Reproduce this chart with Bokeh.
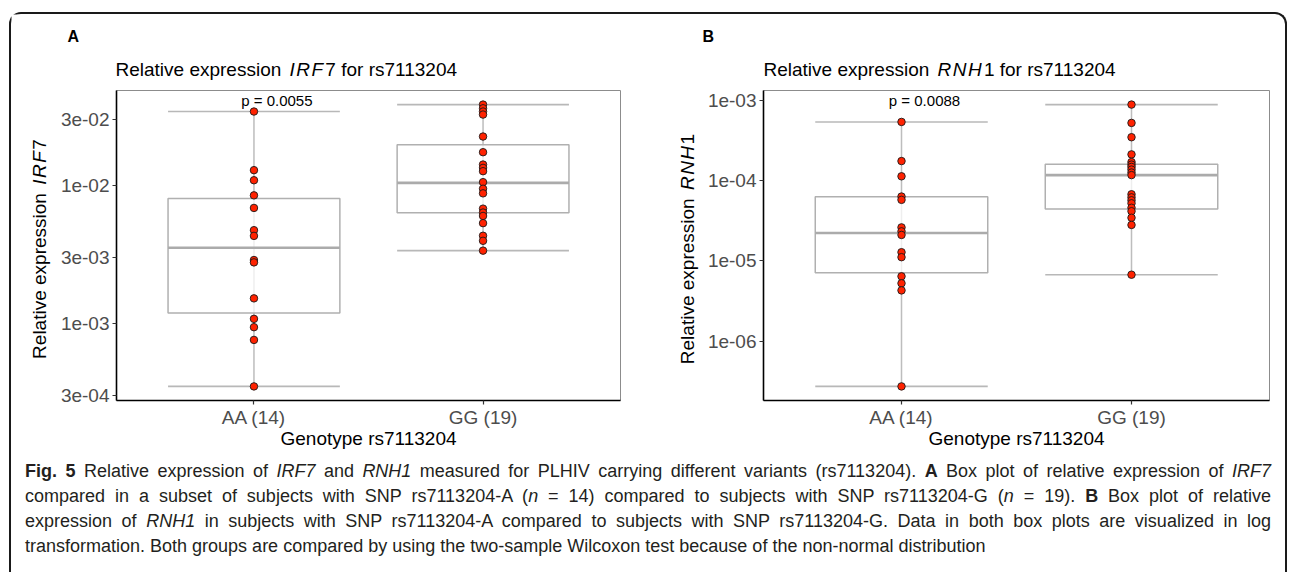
import math
import numpy as np
from bokeh.plotting import figure
from bokeh.models import Range1d, FixedTicker, Label, ColumnDataSource, Div
from bokeh.layouts import row, column
from bokeh.core.properties import value
from bokeh.embed import file_html
from bokeh.resources import INLINE

# ---------------- data ----------------
genotypes = ["AA (14)", "GG (19)"]
genotype_x = [1, 2]

irf7_aa = [0.0343, 0.0129, 0.0109, 0.00847, 0.00687, 0.00474, 0.00431,
           0.00288, 0.00277, 0.00152, 0.00108, 0.00094, 0.00076, 0.00035]
irf7_gg = [0.0385, 0.0362, 0.0343, 0.0326, 0.0226, 0.0174, 0.01416, 0.0134,
           0.01268, 0.01056, 0.00946, 0.00876, 0.00679, 0.00636, 0.00601,
           0.00533, 0.00432, 0.00397, 0.00337]
rnh1_aa = [5.38e-4, 1.75e-4, 1.13e-4, 6.32e-5, 5.75e-5, 2.61e-5, 2.33e-5,
           2.10e-5, 1.28e-5, 1.11e-5, 6.4e-6, 5.24e-6, 4.28e-6, 2.72e-7]
rnh1_gg = [8.85e-4, 5.23e-4, 3.47e-4, 2.12e-4, 1.70e-4, 1.58e-4, 1.48e-4,
           1.37e-4, 1.26e-4, 1.17e-4, 6.75e-5, 6.18e-5, 5.68e-5, 5.21e-5,
           4.58e-5, 4.15e-5, 3.44e-5, 2.80e-5, 6.71e-6]

# box statistics [AA, GG]
irf7_low = [0.00035, 0.00337]
irf7_q1 = [0.00119, 0.00635]
irf7_median = [0.00354, 0.01044]
irf7_q3 = [0.00805, 0.0197]
irf7_high = [0.0343, 0.0385]

rnh1_low = [2.72e-7, 6.71e-6]
rnh1_q1 = [7.1e-6, 4.42e-5]
rnh1_median = [2.22e-5, 1.17e-4]
rnh1_q3 = [6.28e-5, 1.60e-4]
rnh1_high = [5.38e-4, 8.85e-4]

irf7_ticks = [3e-4, 1e-3, 3e-3, 1e-2, 3e-2]
irf7_tick_labels = ["3e-04", "1e-03", "3e-03", "1e-02", "3e-02"]
rnh1_ticks = [1e-6, 1e-5, 1e-4, 1e-3]
rnh1_tick_labels = ["1e-06", "1e-05", "1e-04", "1e-03"]

p_labels = ["p = 0.0055", "p = 0.0088"]
genes = ["IRF", "RNH"]
gene_suffix = ["7", "1"]
panel_letters = ["A", "B"]
x_title = "Genotype rs7113204"

# ---------------- helpers ----------------
FONT = "Liberation Sans"
FS = 19
ARIAL = {' ': 278, 'R': 722, 'e': 556, 'l': 222, 'a': 556, 't': 278, 'i': 222,
         'v': 500, 'x': 500, 'p': 556, 'r': 333, 's': 500, 'o': 556, 'n': 556,
         'I': 278, 'F': 611, 'N': 722, 'H': 722, 'f': 278, 'G': 778, 'y': 500}


def tw(s, size):
    return sum(ARIAL.get(c, 556) for c in s) * size / 1000.0


def gene_pieces(gene, suffix_text):
    sp = tw(" ", FS)
    pieces = [("Relative expression", "normal", 0.0)]
    gap = sp + 3.0
    for ch in gene:
        pieces.append((ch, "italic", gap))
        gap = 1.5
    pieces.append((suffix_text, "normal", 1.5))
    return pieces


def text_fig(w, h):
    f = figure(width=w, height=h, x_range=Range1d(0, w), y_range=Range1d(0, h),
               output_backend="svg", toolbar_location=None, min_border=0,
               x_axis_type=None, y_axis_type=None)
    f.outline_line_color = None
    f.grid.visible = False
    f.background_fill_color = "white"
    f.border_fill_color = "white"
    return f


def draw_pieces(f, pieces, x0, y0, size):
    pos = 0.0
    for text, style, gap in pieces:
        pos += gap
        w = tw(text, size)
        f.text(x=[x0 + pos + w / 2.0], y=[y0], text=[text],
               text_font=value(FONT), text_font_size=value(f"{size}px"),
               text_font_style=value(style), text_align=value("center"),
               text_baseline=value("middle"), text_color="black")
        pos += w


BOX_W = 0.75
FRAME_H = 310
PLOT_H = FRAME_H + 55


def make_plot(aa, gg, lo, q1, med, q3, hi, ticks, tick_labels, idx,
              width, border_left, border_right):
    allv = np.log10(np.concatenate([aa, gg, lo, hi]))
    span = allv.max() - allv.min()
    y0 = 10 ** (allv.min() - 0.05 * span)
    y1 = 10 ** (allv.max() + 0.05 * span)

    p = figure(width=width, height=PLOT_H, x_range=Range1d(0.4, 2.6),
               y_range=Range1d(y0, y1), y_axis_type="log",
               output_backend="svg", toolbar_location=None,
               min_border_left=border_left, min_border_right=border_right,
               min_border_top=1, min_border_bottom=54)
    p.grid.visible = False
    p.outline_line_color = "#8c8c8c"
    p.outline_line_width = 1
    p.background_fill_color = "white"
    p.border_fill_color = "white"

    xs = np.array(genotype_x, dtype=float)
    box = ColumnDataSource(dict(x=xs, xl=xs - BOX_W / 2, xr=xs + BOX_W / 2,
                                lo=lo, q1=q1, med=med, q3=q3, hi=hi))
    p.segment(x0="x", y0="lo", x1="x", y1="hi", source=box,
              line_color="#bdbdbd", line_width=1.5)
    p.vbar(x="x", width=BOX_W, bottom="q1", top="q3", source=box,
           fill_color="white", fill_alpha=0.75, line_color="#b0b0b0",
           line_width=1.5)
    p.segment(x0="xl", y0="med", x1="xr", y1="med", source=box,
              line_color="#ababab", line_width=2.6)
    p.segment(x0="xl", y0="hi", x1="xr", y1="hi", source=box,
              line_color="#b8b8b8", line_width=1.6)
    p.segment(x0="xl", y0="lo", x1="xr", y1="lo", source=box,
              line_color="#b8b8b8", line_width=1.6)

    for xv, vals in zip(genotype_x, [aa, gg]):
        p.scatter(x=[xv] * len(vals), y=vals, size=7.5, fill_color="#ff2200",
                  line_color="#1a1a1a", line_width=0.9)

    p.xaxis.ticker = FixedTicker(ticks=genotype_x)
    p.xaxis.major_label_overrides = {x: l for x, l in zip(genotype_x, genotypes)}
    p.yaxis.ticker = FixedTicker(ticks=ticks)
    p.yaxis.major_label_overrides = {t: l for t, l in zip(ticks, tick_labels)}
    for ax in (p.xaxis, p.yaxis):
        ax.axis_line_color = "black"
        ax.axis_line_width = 1.6
        ax.major_tick_line_color = "#333333"
        ax.major_tick_line_width = 1.2
        ax.major_tick_out = 4
        ax.major_tick_in = 0
        ax.minor_tick_line_color = None
        ax.major_label_text_font = FONT
        ax.major_label_text_font_size = f"{FS}px"
        ax.major_label_text_color = "#4d4d4d"
    p.xaxis.major_label_standoff = 2
    p.yaxis.major_label_standoff = 3
    p.xaxis.axis_label = x_title
    p.xaxis.axis_label_text_font = FONT
    p.xaxis.axis_label_text_font_size = f"{FS}px"
    p.xaxis.axis_label_text_font_style = "normal"
    p.xaxis.axis_label_text_color = "black"
    p.xaxis.axis_label_standoff = -3

    pl = Label(x=1.1, y=FRAME_H - 10, x_units="data", y_units="screen",
               text=p_labels[idx], text_align="center", text_baseline="middle",
               text_font=FONT, text_font_size="15px", text_color="black")
    p.add_layout(pl)
    return p


def ylabel_div(idx, w, h, cx, cy):
    html = (
        f'<div style="position:relative;width:{w}px;height:{h}px;overflow:visible;">'
        f'<div style="position:absolute;left:{cx}px;top:{cy}px;'
        'transform:translate(-50%,-50%) rotate(-90deg);white-space:nowrap;'
        f"font-family:'{FONT}',sans-serif;font-size:{FS}px;line-height:1;color:black;\">"
        'Relative expression '
        f'<i style="letter-spacing:1.5px;padding-left:3px;">{genes[idx]}</i>'
        f'{gene_suffix[idx]}</div></div>')
    return Div(text=html, width=w, height=h, margin=0)


def make_panel(idx, data, total_w, ylab_w, ylab_cx, title_x, letter_x,
               border_left, border_right):
    tf = text_fig(total_w, 75)
    draw_pieces(tf, gene_pieces(genes[idx], gene_suffix[idx] + " for rs7113204"),
                title_x, 20, FS)
    tf.text(x=[letter_x], y=[53], text=[panel_letters[idx]],
            text_font=value(FONT), text_font_size=value("16px"),
            text_font_style=value("bold"), text_align=value("left"),
            text_baseline=value("middle"), text_color="black")

    yd = ylabel_div(idx, ylab_w, PLOT_H, ylab_cx, 160)
    p = make_plot(*data, idx, total_w - ylab_w, border_left, border_right)
    return column(tf, row(yd, p))


panelA = make_panel(0, (irf7_aa, irf7_gg, irf7_low, irf7_q1, irf7_median,
                        irf7_q3, irf7_high, irf7_ticks, irf7_tick_labels),
                    629, 46, 28, 104, 56, 58, 20)
panelB = make_panel(1, (rnh1_aa, rnh1_gg, rnh1_low, rnh1_q1, rnh1_median,
                        rnh1_q3, rnh1_high, rnh1_ticks, rnh1_tick_labels),
                    635, 60, 47, 123, 62, 63, 6)

line1 = ('<b>Fig. 5</b> Relative expression of <i>IRF7</i> and <i>RNH1</i> '
         'measured for PLHIV carrying different variants (rs7113204). '
         '<b>A</b> Box plot of relative expression of <i>IRF7</i>')
line2 = ('compared in a subset of subjects with SNP rs7113204-A (<i>n</i> = 14) '
         'compared to subjects with SNP rs7113204-G (<i>n</i> = 19). '
         '<b>B</b> Box plot of relative')
line3 = ('expression of <i>RNH1</i> in subjects with SNP rs7113204-A compared to '
         'subjects with SNP rs7113204-G. Data in both box plots are visualized in log')
line4 = ('transformation. Both groups are compared by using the two-sample '
         'Wilcoxon test because of the non-normal distribution')

jst = 'text-align:justify;text-align-last:justify;'
caption_html = (
    '<div style="font-family:\'Liberation Sans\',sans-serif;'
    'font-size:18px;line-height:25px;color:#231f20;padding:0 0 0 9px;width:1255px;">'
    f'<div style="{jst}">{line1}</div>'
    f'<div style="{jst}">{line2}</div>'
    f'<div style="{jst}">{line3}</div>'
    f'<div style="text-align:left;">{line4}</div>'
    '</div>')
caption = Div(text=caption_html, width=1264, height=108)

layout = column(row(panelA, panelB), caption, margin=(12, 0, 0, 9),
                styles={"border": "2px solid #1a1a1a", "border-bottom": "none",
                        "border-radius": "12px 12px 0 0"})

open("out.html", "w").write(file_html(layout, INLINE))
